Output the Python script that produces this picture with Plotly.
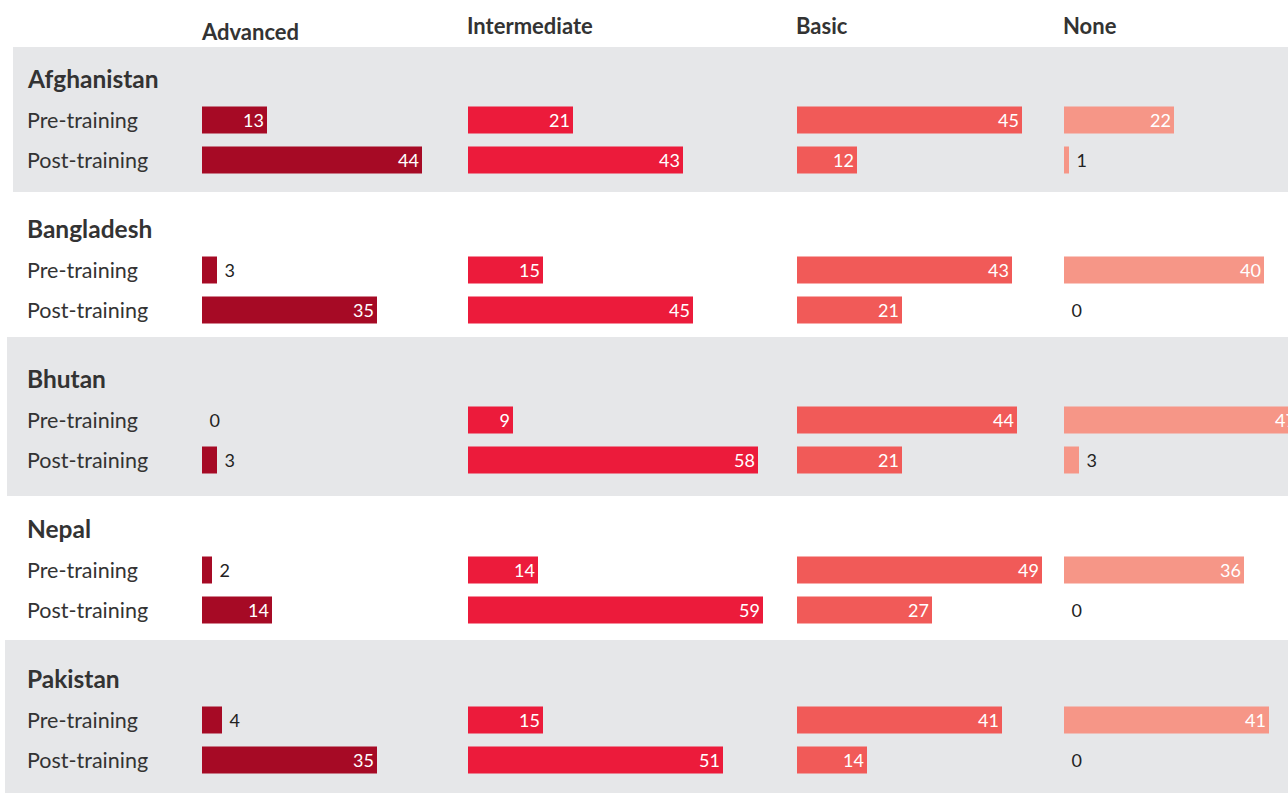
import plotly.graph_objects as go

# ---------------- data ----------------
countries = ["Afghanistan", "Bangladesh", "Bhutan", "Nepal", "Pakistan"]
levels = ["Advanced", "Intermediate", "Basic", "None"]
phases = ["Pre-training", "Post-training"]

advanced_pre = [13, 3, 0, 2, 4]
advanced_post = [44, 35, 3, 14, 35]
intermediate_pre = [21, 15, 9, 14, 15]
intermediate_post = [43, 45, 58, 59, 51]
basic_pre = [45, 43, 44, 49, 41]
basic_post = [12, 21, 21, 27, 14]
none_pre = [22, 40, 47, 36, 41]
none_post = [1, 0, 3, 0, 0]

values = {
    "Advanced": (advanced_pre, advanced_post),
    "Intermediate": (intermediate_pre, intermediate_post),
    "Basic": (basic_pre, basic_post),
    "None": (none_pre, none_post),
}
colors = {
    "Advanced": "#A60A25",
    "Intermediate": "#EC1B3B",
    "Basic": "#F15A58",
    "None": "#F69687",
}

# ---------------- layout constants ----------------
W, H = 1288, 793
PX_PER_UNIT = 5.0
col_px = [(202, 460), (468, 790), (797, 1058), (1064, 1288)]
header_y = [31, 25, 25, 25]
title_y0, block_step = 78, 150
pre_off, post_off = 42, 82
bar_h = 27
label_x = 28
bands = [(13, 47, 192), (7, 337, 496), (5, 640, 793)]  # left, top, bottom (px)
FONT = "Lato, 'Source Sans Pro', 'Noto Sans', sans-serif"
TXT = "#333333"
NB = "\u00a0"

title_pos = [title_y0 + block_step * i for i in range(len(countries))]
pre_pos = [t + pre_off for t in title_pos]
post_pos = [t + post_off for t in title_pos]

fig = go.Figure()

for j, lvl in enumerate(levels):
    ax = "x" if j == 0 else f"x{j+1}"
    for vals, ypos in zip(values[lvl], (pre_pos, post_pos)):
        inside = [v >= 8 for v in vals]
        fig.add_trace(go.Bar(
            x=vals, y=ypos, orientation="h", xaxis=ax, yaxis="y",
            width=bar_h, marker=dict(color=colors[lvl], line=dict(width=0)),
            text=[str(v) if ins else NB + str(v) for v, ins in zip(vals, inside)],
            textposition=["inside" if ins else "outside" for ins in inside],
            insidetextanchor="end", textangle=0,
            insidetextfont=dict(color="white", size=18, family=FONT),
            outsidetextfont=dict(color="#222222", size=18, family=FONT),
            constraintext="none", cliponaxis=True,
            hoverinfo="x", showlegend=False,
        ))

layout_axes = {}
for j, (a, b) in enumerate(col_px):
    key = "xaxis" if j == 0 else f"xaxis{j+1}"
    layout_axes[key] = dict(
        domain=[a / W, b / W], range=[0, (b - a) / PX_PER_UNIT],
        visible=False, anchor="y", fixedrange=True,
    )

annotations = []
for j, lvl in enumerate(levels):
    xr = "x" if j == 0 else f"x{j+1}"
    annotations.append(dict(
        text=f"<b>{lvl}</b>", xref=f"{xr} domain", x=0, xanchor="left", xshift=-3,
        yref="y", y=header_y[j], yanchor="middle", showarrow=False,
        font=dict(size=22, color=TXT, family=FONT),
    ))
for i, c in enumerate(countries):
    annotations.append(dict(
        text=f"<b>{c}</b>", xref="paper", x=label_x / W, xanchor="left", xshift=-3,
        yref="y", y=title_pos[i], yanchor="middle", showarrow=False,
        font=dict(size=24.5, color=TXT, family=FONT),
    ))
    for ph, yp in zip(phases, (pre_pos[i], post_pos[i])):
        annotations.append(dict(
            text=ph, xref="paper", x=label_x / W, xanchor="left", xshift=-3,
            yref="y", y=yp, yanchor="middle", showarrow=False,
            font=dict(size=21.5, color=TXT, family=FONT),
        ))

shapes = []
for left, top, bottom in bands:
    shapes.append(dict(
        type="rect", xref="paper", x0=left / W, x1=1, yref="y", y0=top, y1=bottom,
        fillcolor="#E6E7E9", line=dict(width=0), layer="below",
    ))

fig.update_layout(
    width=W, height=H, margin=dict(l=0, r=0, t=0, b=0, pad=0),
    paper_bgcolor="white", plot_bgcolor="white",
    yaxis=dict(domain=[0, 1], range=[H, 0], visible=False, fixedrange=True),
    barmode="overlay", showlegend=False,
    annotations=annotations, shapes=shapes,
    font=dict(family=FONT, color=TXT),
    **layout_axes,
)

fig.write_html(
    "out.html",
    config={"displayModeBar": False},
    post_script="document.body.style.margin='0';document.body.style.overflow='hidden';",
)
